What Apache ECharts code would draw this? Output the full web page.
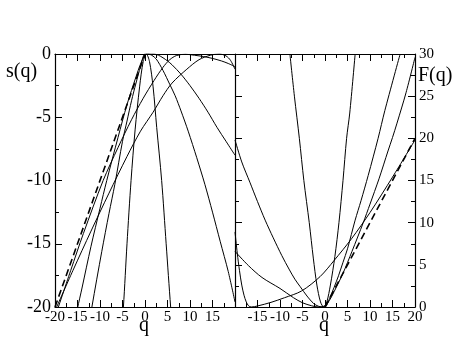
<!DOCTYPE html>
<html>
<head>
<meta charset="utf-8">
<script src="https://cdn.jsdelivr.net/npm/echarts@6/dist/echarts.min.js"></script>
<style>
  html, body { margin: 0; padding: 0; background: #fff; }
  #chart { width: 471px; height: 364px; }
</style>
</head>
<body>
<div id="chart"></div>
<script>
// tick labels
var qTicksLeft = [-20, -15, -10, -5, 0, 5, 10, 15];
var qTicksRight = [-15, -10, -5, 0, 5, 10, 15, 20];

// s(q), left panel: [q, s]
var sDashed = [[-20, -20], [0, 0]];
var s1 = [[-6.7, -30], [-5.5, -23], [-4.8, -20], [-4, -15], [-3.1, -10], [-2.2, -6], [-1.2, -2.6], [-0.4, -0.6], [0.3, 0], [1, -0.6], [1.8, -2.6], [2.6, -5.8], [3.7, -10], [4.7, -15], [5.7, -20], [6.8, -25], [7.8, -30]];
var s2 = [[-16.7, -30], [-13.3, -23.3], [-11.8, -20], [-9.6, -15.6], [-8, -12.6], [-6.7, -10.3], [-5, -6.9], [-4, -5.3], [-3, -3.7], [-2, -2.3], [-1, -1], [0, 0], [0.7, 0], [1.5, -0.1], [2.5, -0.4], [4, -1.3], [5.5, -2.4], [6.7, -3.3], [8, -4.5], [9.6, -6.1], [11.5, -8.2], [13.3, -10.3], [15, -12.5], [16.7, -14.8], [18.5, -17.2], [20, -19.6]];
var s3 = [[-20, -28.7], [-18, -25.2], [-16, -21.8], [-15, -20.1], [-14, -18.5], [-12, -15.2], [-10, -12.2], [-8.5, -10], [-6, -6.6], [-4, -4], [-2, -1.8], [-1, -0.8], [0, -0.1], [1, 0], [2, 0], [3, -0.1], [4, -0.3], [5, -0.55], [6, -0.85], [8, -1.6], [10, -2.5], [12, -3.5], [14, -4.6], [16, -5.8], [18, -6.9], [20, -8]];
var s4 = [[-20, -20.8], [-16.5, -17.1], [-13.7, -14.2], [-9.3, -10], [-6, -7.4], [-3, -5.2], [-0.4, -3.5], [2, -2.1], [4, -1.05], [5.5, -0.45], [7, -0.12], [9, -0.02], [11, -0.1], [13, -0.2], [15, -0.35], [17, -0.55], [18.5, -0.75], [20, -1]];
var s5 = [[-20, -20.3], [-16, -17.1], [-12, -14], [-8, -11], [-4, -8.1], [-1, -6.1], [1.8, -4.6], [4, -3.3], [6, -2.3], [9.3, -1.2], [12, -0.45], [14.5, -0.1], [16.5, 0], [18, -0.15], [19, -0.5], [20, -1.2]];

// F(q), right panel: [q, F]
var fDashed = [[0, 0], [20, 20]];
var f1 = [[-7.8, 30], [-6.8, 25], [-5.7, 20], [-4.7, 15], [-3.5, 10], [-2.6, 5.8], [-1.8, 2.6], [-1, 0.6], [-0.3, 0], [0.4, 0.6], [1.2, 2.6], [2.2, 6], [3.1, 10], [4, 15], [4.8, 20], [5.5, 23], [6.7, 30]];
var f2 = [[-20, 19.8], [-18.5, 17.2], [-16.7, 14.8], [-15, 12.5], [-13.3, 10.3], [-11.5, 8.2], [-9.6, 6.1], [-8, 4.5], [-6.7, 3.3], [-5.5, 2.4], [-4, 1.3], [-2.5, 0.4], [-1.5, 0.1], [-0.7, 0], [0, 0], [1, 1], [2, 2.3], [3, 3.7], [4, 5.3], [5, 6.9], [6.7, 10.3], [8, 12.6], [9.6, 15.6], [11.8, 20], [13.3, 23.3], [16.7, 30]];
var f3 = [[-20, 6.6], [-17, 4.9], [-14, 3.5], [-10, 2.2], [-7, 1.1], [-5, 0.5], [-3, 0.15], [-1.5, 0], [0, 0.15], [1, 0.8], [2, 1.8], [4, 4], [6, 6.6], [8.5, 10], [10, 12.2], [12, 15.2], [14, 18.5], [15, 20.1], [16, 21.8], [18, 25.4], [20, 29.6]];
var f5 = [[-20, 8.9], [-19.5, 6.4], [-19, 4.3], [-18.5, 2.6], [-18, 1.4], [-17.5, 0.6], [-17, 0.15], [-16.4, 0], [-15, 0.12], [-12, 0.55], [-9, 1.1], [-5.2, 1.9], [-1.1, 3.6], [2, 5.5], [5.9, 8.1], [10, 11.2], [15, 15.4], [20, 19.8]];

var chart = echarts.init(document.getElementById('chart'));

var serif = 'Liberation Serif';
var line = { color: '#000', width: 1 };

function frameAxis(extra) {
  var base = {
    axisLine: { show: true, onZero: false, lineStyle: { color: '#000', width: 1.2 } },
    axisTick: { show: true, inside: true, length: 7, lineStyle: { color: '#000' } },
    minorTick: { show: true, splitNumber: 2, length: 4, lineStyle: { color: '#000' } },
    splitLine: { show: false },
    axisLabel: { show: false }
  };
  return Object.assign(base, extra);
}

function curve(data, xi, yi, dashed) {
  return {
    type: 'line',
    xAxisIndex: xi,
    yAxisIndex: yi,
    data: data,
    symbol: 'none',
    smooth: dashed ? false : 0.3,
    lineStyle: dashed ? { color: '#000', width: 1.6, type: [7, 4] } : line,
    silent: true,
    animation: false
  };
}

var labelX = { show: true, color: '#000', fontFamily: serif, fontSize: 15, margin: 3 };

var option = {
  backgroundColor: '#fff',
  animation: false,
  grid: [
    { left: 55, top: 54, width: 180, height: 253 },
    { left: 235, top: 54, width: 180, height: 253 }
  ],
  xAxis: [
    frameAxis({ gridIndex: 0, type: 'value', position: 'bottom', min: -20, max: 20, interval: 5,
      axisLabel: Object.assign({}, labelX, { formatter: function (v) { return qTicksLeft.indexOf(v) >= 0 ? String(v) : ''; } }) }),
    frameAxis({ gridIndex: 0, type: 'value', position: 'top', min: -20, max: 20, interval: 5 }),
    frameAxis({ gridIndex: 1, type: 'value', position: 'bottom', min: -20, max: 20, interval: 5,
      axisLabel: Object.assign({}, labelX, { formatter: function (v) { return qTicksRight.indexOf(v) >= 0 ? String(v) : ''; } }) }),
    frameAxis({ gridIndex: 1, type: 'value', position: 'top', min: -20, max: 20, interval: 5 })
  ],
  yAxis: [
    frameAxis({ gridIndex: 0, type: 'value', position: 'left', min: -20, max: 0, interval: 5,
      axisLabel: { show: true, color: '#000', fontFamily: serif, fontSize: 18, margin: 4 } }),
    frameAxis({ gridIndex: 1, type: 'value', position: 'right', min: 0, max: 30, interval: 5,
      axisLabel: { show: true, color: '#000', fontFamily: serif, fontSize: 15, margin: 4 } }),
    frameAxis({ gridIndex: 1, type: 'value', position: 'left', min: 0, max: 30, interval: 5 })
  ],
  graphic: [
    { type: 'text', left: 6, top: 62, style: { text: 's(q)', font: '20px "Liberation Serif"', fill: '#000' } },
    { type: 'text', left: 418, top: 66, style: { text: 'F(q)', font: '20px "Liberation Serif"', fill: '#000' } },
    { type: 'text', left: 139, top: 316, style: { text: 'q', font: '20px "Liberation Serif"', fill: '#000' } },
    { type: 'text', left: 319, top: 316, style: { text: 'q', font: '20px "Liberation Serif"', fill: '#000' } }
  ],
  series: [
    curve(sDashed, 0, 0, true),
    curve(s1, 0, 0), curve(s2, 0, 0), curve(s3, 0, 0), curve(s4, 0, 0), curve(s5, 0, 0),
    curve(fDashed, 2, 1, true),
    curve(f1, 2, 1), curve(f2, 2, 1), curve(f3, 2, 1), curve(f5, 2, 1)
  ]
};

chart.setOption(option);
window.addEventListener('resize', function () { chart.resize(); });
</script>
</body>
</html>
